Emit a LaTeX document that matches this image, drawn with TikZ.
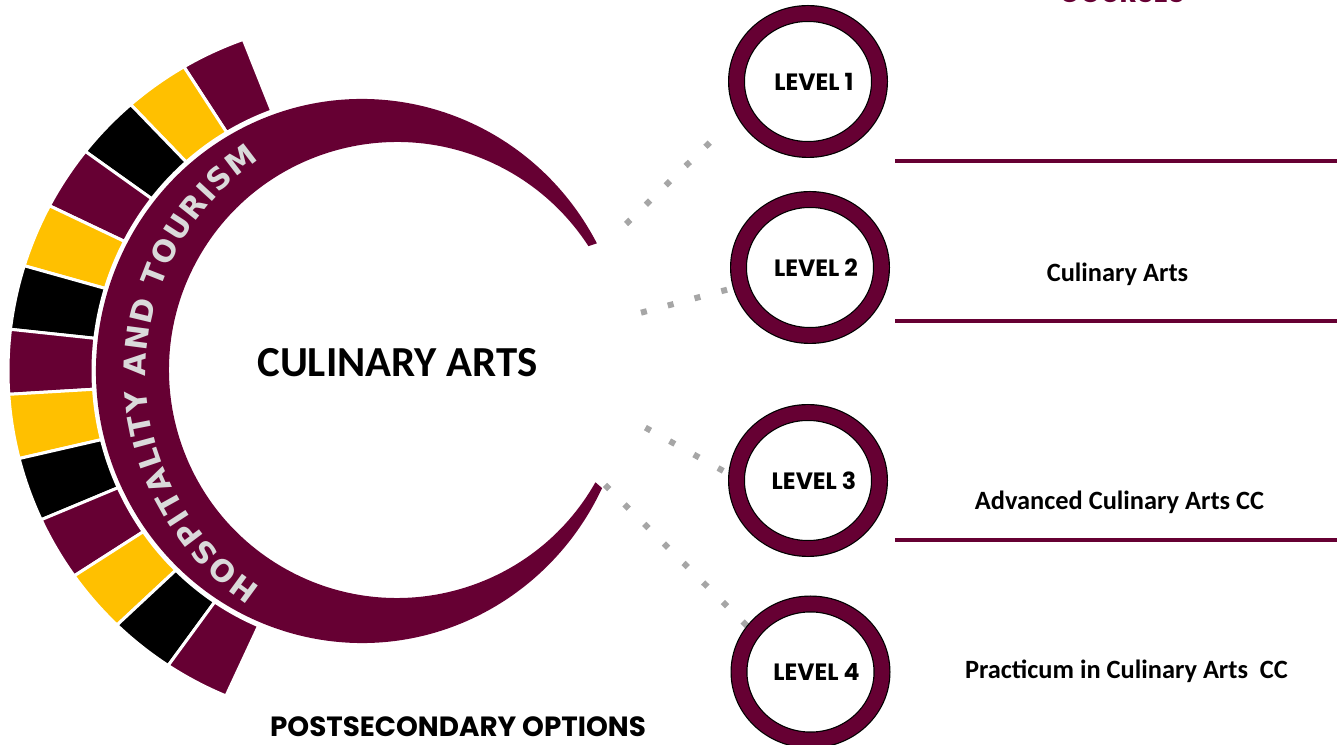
\documentclass[tikz,border=0pt]{standalone}
\usepackage{fontspec}
\setmainfont{Carlito}
\newfontfamily\geo{Poppins}
\newfontfamily\arcfont{DejaVu Sans}
\usetikzlibrary{shapes.geometric,decorations.text,backgrounds,calc}
\definecolor{maroon}{HTML}{660033}
\definecolor{goldy}{HTML}{FFC000}
\definecolor{dotgray}{HTML}{A6A6A6}
\definecolor{arcgray}{HTML}{DADADA}
\tikzset{
  levelring/.style={ellipse, draw=black, line width=0.6pt, double=maroon,
    double distance=7.3pt, fill=white, minimum width=71.5pt, minimum height=68pt,
    inner sep=0pt, font=\geo\bfseries\fontsize{11.8}{13}\selectfont},
  dotline/.style={draw=dotgray, line width=3pt, dash pattern=on 3pt off 10.85pt},
  hline/.style={draw=maroon, line width=2pt},
  blk/.style={draw=white, line width=1.5pt},
  bodytext/.style={font=\bfseries\fontsize{13.2}{15}\selectfont, anchor=base, inner sep=0pt},
}
\begin{document}
\begin{tikzpicture}[x=0.5pt,y=0.5pt]
\path[use as bounding box, clip] (0,0) rectangle (1340,745);

% outer coloured blocks
\coordinate (B) at (362,374);
\foreach \i/\col in {0/maroon,1/goldy,2/black,3/maroon,4/goldy,5/black,6/maroon,7/goldy,8/black,9/maroon,10/goldy,11/black,12/maroon}{
  \pgfmathsetmacro\aA{109.6+10.6*\i}
  \pgfmathsetmacro\aB{\aA+10.6}
  \fill[\col, blk] ($(B)+({269*cos(\aA)},{276*sin(\aA)})$)
     arc[start angle=\aA, end angle=\aB, x radius=269, y radius=276]
     -- ($(B)+({354*cos(\aB)},{352*sin(\aB)})$)
     arc[start angle=\aB, end angle=\aA, x radius=354, y radius=352] -- cycle;
}

% crescent band
\coordinate (O1) at (362,374);
\coordinate (O2) at (397,375);
\fill[maroon] ($(O1)+({266*cos(28)},{272*sin(28)})$)
   arc[start angle=28, end angle=334.5, x radius=266, y radius=272]
   -- ($(O2)+(330.5:228)$)
   arc[start angle=330.5, end angle=32.9, radius=228] -- cycle;

% text on the band
\coordinate (T) at (403,372);
\path[decorate, decoration={text along path,
   text={|\arcfont\bfseries\fontsize{15}{15}\selectfont\color{arcgray}|HOSPITALITY AND TOURISM},
   text align={fit to path}}]
   ($(T)+(236.5:257)$) arc[start angle=236.5, end angle=124, radius=257];

% main texts
\node[anchor=base, inner sep=0pt, font=\bfseries\fontsize{21.4}{24}\selectfont] (title) at (397.5,368) {CULINARY ARTS};
\node[anchor=base, inner sep=0pt, font=\geo\bfseries\fontsize{13.9}{16}\selectfont] (post) at (458,9) {POSTSECONDARY OPTIONS};
\node[anchor=base, inner sep=0pt, text=maroon, font=\geo\bfseries\fontsize{13.4}{16}\selectfont] (courses) at (1122,742) {COURSES};

% level circles
\node[levelring] (l1) at (808,663.5) {\kern6pt LEVEL 1};
\node[levelring] (l2) at (810,477.5) {\kern6pt LEVEL 2};
\node[levelring] (l3) at (808,264.5) {\kern6pt LEVEL 3};
\node[levelring] (l4) at (810.5,73) {\kern6pt LEVEL 4};

% dotted connectors
\coordinate (c1) at (626,521);
\coordinate (c2) at (641,432.3);
\coordinate (c3) at (645.4,317.4);
\coordinate (c4) at (604.9,260.1);
\begin{pgfonlayer}{background}
\draw[dotline, shorten >=19pt] (c1) -- (l1.204);
\draw[dotline] (c2) -- (l2);
\draw[dotline] (c3) -- (l3.178);
\draw[dotline] (c4) -- (l4.145);
\end{pgfonlayer}

% course rules
\coordinate (h1a) at (895,584); \coordinate (h1b) at (1337,584);
\coordinate (h2a) at (895,423.5); \coordinate (h2b) at (1337,423.5);
\coordinate (h3a) at (895,205); \coordinate (h3b) at (1337,205);
\draw[hline] (h1a) -- (h1b);
\draw[hline] (h2a) -- (h2b);
\draw[hline] (h3a) -- (h3b);

% course names
\node[bodytext] (k2) at (1117.5,463) {Culinary Arts};
\node[bodytext] (k3) at (1119.5,235.5) {Advanced Culinary Arts CC};
\node[bodytext] (k4) at (1126.5,66.5) {Practicum in Culinary Arts~ CC};
\end{tikzpicture}
\end{document}
